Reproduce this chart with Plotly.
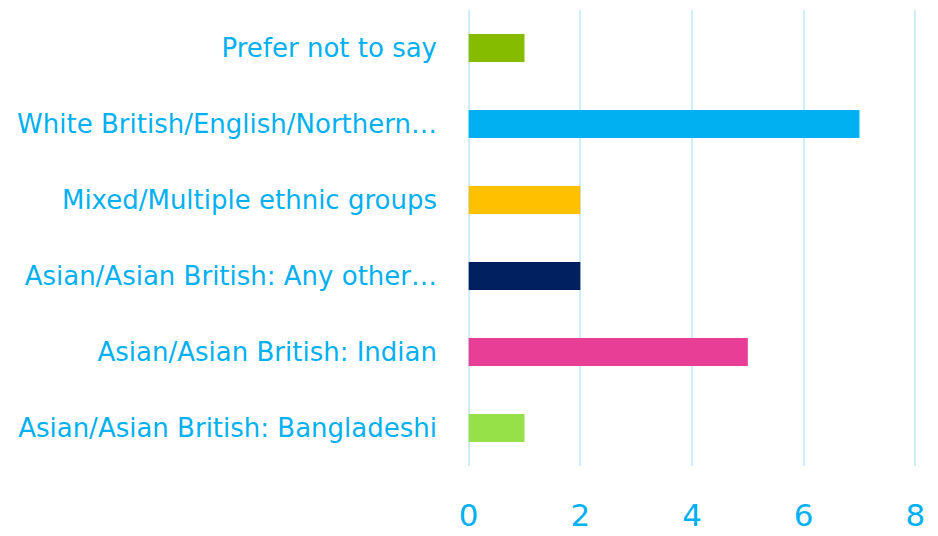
import plotly.graph_objects as go

categories = [
    "Asian/Asian British: Bangladeshi",
    "Asian/Asian British: Indian",
    "Asian/Asian British: Any other…",
    "Mixed/Multiple ethnic groups",
    "White British/English/Northern…",
    "Prefer not to say",
]
counts = [1, 5, 2, 2, 7, 1]
bar_colors = ["#96E048", "#E83E96", "#002060", "#FFC000", "#00B0F0", "#86BC00"]
x_ticks = [0, 2, 4, 6, 8]

label_blue = "#00B0F0"
grid_blue = "#CDEDFB"

fig = go.Figure(go.Bar(
    x=counts,
    y=categories,
    orientation="h",
    marker=dict(color=bar_colors, line=dict(width=0)),
    hoverinfo="x+y",
))

fig.update_layout(
    width=938,
    height=536,
    margin=dict(l=467, r=21, t=10, b=70),
    paper_bgcolor="white",
    plot_bgcolor="white",
    bargap=0.63,
    showlegend=False,
    font=dict(family="DejaVu Sans, sans-serif", color=label_blue),
)
# pad the range a little so the 0 and 8 grid lines are kept
fig.update_xaxes(
    range=[-0.03, 8.03],
    tickvals=x_ticks,
    showgrid=True,
    gridcolor=grid_blue,
    gridwidth=2,
    zeroline=False,
    showline=False,
    ticks="",
    tickfont=dict(size=31, color=label_blue),
    ticklabelstandoff=28,
    automargin=False,
    fixedrange=True,
)
fig.update_yaxes(
    showgrid=False,
    zeroline=False,
    showline=False,
    ticks="",
    tickfont=dict(size=26, color=label_blue),
    ticklabelstandoff=29,
    automargin=False,
    fixedrange=True,
)

# drop the default body margin so the figure fills the window
fig.write_html(
    "out.html",
    config={"displayModeBar": False},
    post_script="document.body.style.margin = '0';",
)
